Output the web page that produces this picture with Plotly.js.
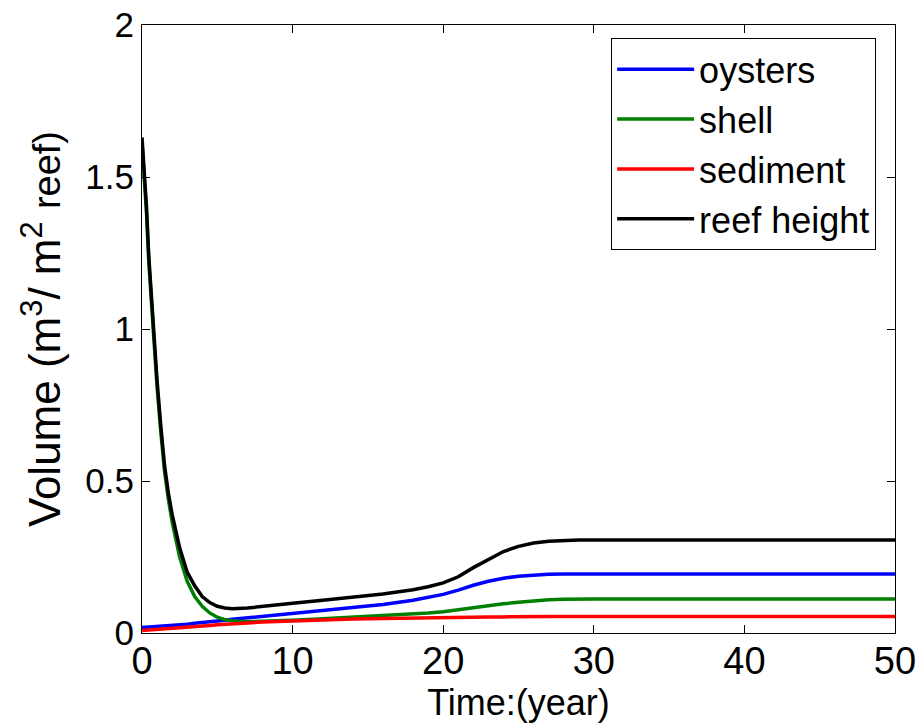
<!DOCTYPE html>
<html>
<head>
<meta charset="utf-8">
<script src="https://cdn.plot.ly/plotly-3.0.1.min.js"></script>
<style>html,body{margin:0;padding:0;background:#fff;}#chart{width:921px;height:726px;}</style>
</head>
<body>
<div id="chart"></div>
<script>
const time = [0,0.3,0.45,0.65,0.85,1,1.25,1.5,1.75,2,2.5,3,3.5,4,4.5,5,5.5,6,7,8,10,12,14,16,18,19,20,21,22,23,24,25,26,27,28,29,30,35,40,45,50];
const oysters = [0.018,0.019,0.019,0.020,0.020,0.021,0.022,0.023,0.024,0.025,0.027,0.029,0.032,0.034,0.037,0.040,0.042,0.045,0.050,0.055,0.065,0.074,0.084,0.094,0.108,0.117,0.127,0.141,0.157,0.170,0.180,0.187,0.191,0.193,0.194,0.194,0.194,0.194,0.194,0.194,0.194];
const shell = [1.61,1.38,1.22,1.07,0.91,0.81,0.66,0.53,0.44,0.365,0.25,0.17,0.12,0.088,0.066,0.052,0.044,0.040,0.037,0.038,0.042,0.047,0.052,0.057,0.062,0.066,0.070,0.077,0.084,0.090,0.096,0.101,0.106,0.109,0.111,0.112,0.112,0.112,0.112,0.112,0.112];
const sediment = [0.008,0.009,0.009,0.010,0.010,0.011,0.012,0.013,0.014,0.015,0.017,0.019,0.021,0.023,0.025,0.027,0.029,0.031,0.033,0.036,0.040,0.043,0.046,0.048,0.050,0.051,0.052,0.052,0.053,0.053,0.053,0.054,0.054,0.054,0.054,0.054,0.054,0.054,0.054,0.054,0.054];
const reefHeight = [1.63,1.40,1.24,1.09,0.93,0.83,0.68,0.55,0.46,0.39,0.28,0.20,0.155,0.12,0.10,0.088,0.082,0.080,0.082,0.088,0.098,0.108,0.118,0.128,0.142,0.152,0.165,0.185,0.215,0.243,0.268,0.285,0.296,0.302,0.305,0.306,0.306,0.306,0.306,0.306,0.306];
const seriesNames = ["oysters","shell","sediment","reef height"];
const seriesColors = ["#0000ff","#008000","#ff0000","#000000"];
const xTicks = [0,10,20,30,40,50];
const yTicks = [0,0.5,1,1.5,2];
const yTickText = ["0","0.5","1","1.5","2"];

const values = [oysters, shell, sediment, reefHeight];
const traces = values.map((v,i)=>({
  x: time, y: v, type: "scatter", mode: "lines", name: seriesNames[i],
  line: {color: seriesColors[i], width: 3.5}
}));

const font = "Liberation Sans, Arial, sans-serif";
const layout = {
  width: 921, height: 726,
  margin: {l:142, r:26, t:25, b:93},
  paper_bgcolor: "#fff", plot_bgcolor: "#fff",
  font: {family: font, color: "#000", size: 35},
  showlegend: true,
  legend: {
    x: 0.623, y: 0.978, xanchor: "left", yanchor: "top",
    bgcolor: "#fff", bordercolor: "#000", borderwidth: 1,
    font: {family: font, size: 36, color: "#000"},
    itemwidth: 77, tracegroupgap: 0
  },
  xaxis: {
    range: [0,50], tickvals: xTicks, ticks: "inside", ticklen: 8, tickcolor: "#000",
    showline: true, linecolor: "#000", linewidth: 1, mirror: "allticks",
    showgrid: false, zeroline: false, ticklabelstandoff: -6,
    tickfont: {family: font, size: 38, color: "#000"},
    title: {text: "Time:(year)", font: {family: font, size: 36, color: "#000"}, standoff: 0}
  },
  yaxis: {
    range: [0,2], tickvals: yTicks, ticktext: yTickText, ticks: "inside", ticklen: 8, tickcolor: "#000",
    showline: true, linecolor: "#000", linewidth: 1, mirror: "allticks",
    showgrid: false, zeroline: false,
    tickfont: {family: font, size: 35, color: "#000"},
    title: {text: "Volume (m<sup>3</sup>/ m<sup>2</sup> <span style=\"font-size:38px\">reef)</span>", font: {family: font, size: 44, color: "#000"}, standoff: 10}
  }
};
Plotly.newPlot("chart", traces, layout, {displayModeBar: false, staticPlot: true});
</script>
</body>
</html>
